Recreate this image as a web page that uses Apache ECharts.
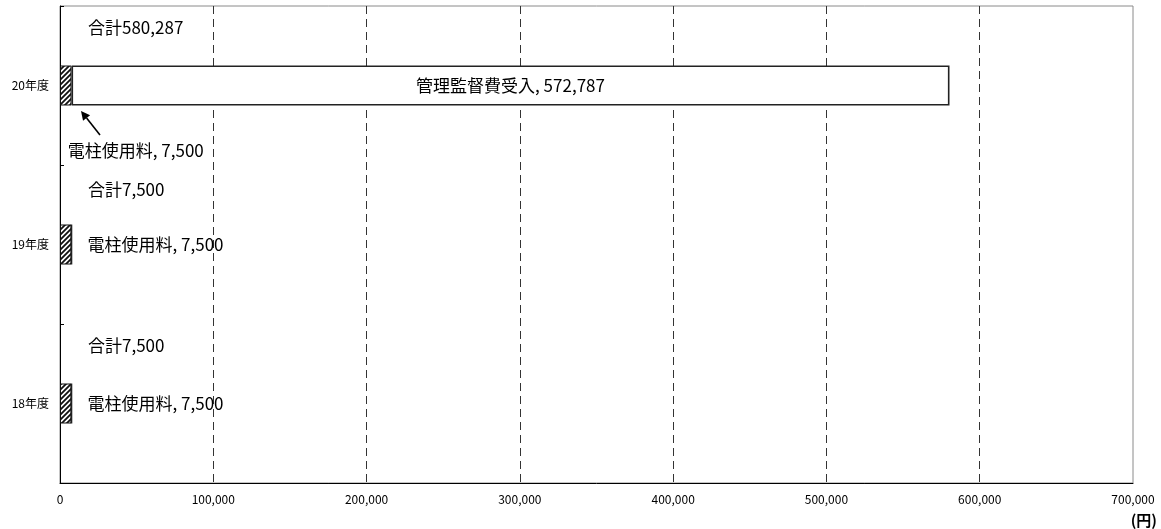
<!DOCTYPE html>
<html>
<head>
<meta charset="utf-8">
<script src="https://cdn.jsdelivr.net/npm/echarts@6/dist/echarts.min.js"></script>
<style>
  html, body { margin: 0; padding: 0; background: #fff; }
  #chart { width: 1161px; height: 529px; }
</style>
</head>
<body>
<div id="chart"></div>
<script>
// 年度別 収入内訳（円）
const years = ['18年度', '19年度', '20年度'];
const poleFee = [7500, 7500, 7500];          // 電柱使用料
const supervisionFee = [0, 0, 572787];       // 管理監督費受入
const totals = [7500, 7500, 580287];         // 合計
const xTicks = [0, 100000, 200000, 300000, 400000, 500000, 600000, 700000];

const FONT = '"Noto Sans CJK JP", "Noto Sans", sans-serif';
const fmt = v => Number(v).toLocaleString('en-US');

// diagonal hatch fill for 電柱使用料
function hatch() {
  const s = 5;
  const c = document.createElement('canvas');
  c.width = s; c.height = s;
  const g = c.getContext('2d');
  g.fillStyle = '#fff';
  g.fillRect(0, 0, s, s);
  g.strokeStyle = '#111';
  g.lineWidth = 1.8;
  g.beginPath();
  g.moveTo(-1, s + 1); g.lineTo(s + 1, -1);
  g.moveTo(-1, 1); g.lineTo(1, -1);
  g.moveTo(s - 1, s + 1); g.lineTo(s + 1, s - 1);
  g.stroke();
  return c;
}

const labelStyle = { color: '#000', fontSize: 17, fontFamily: FONT };

const poleData = poleFee.map((v, i) => {
  const top = i === years.length - 1;
  return {
    value: v,
    label: top
      ? { show: true, position: 'bottom', align: 'left', verticalAlign: 'top', offset: [2, 32] }
      : { show: true, position: 'right', distance: 16 }
  };
});

const supData = supervisionFee.map(v => ({
  value: v,
  label: { show: v > 0 }
}));

const totalShift = [-38, -35, -38];
const totalData = totals.map((v, i) => ({
  value: v,
  label: { position: [28, totalShift[i]] }
}));

const chart = echarts.init(document.getElementById('chart'));
chart.setOption({
  animation: false,
  grid: {
    left: 60, right: 28, top: 6, bottom: 46,
    show: true, borderColor: '#8a8a8a', borderWidth: 1, backgroundColor: '#fff'
  },
  xAxis: {
    type: 'value',
    min: xTicks[0], max: xTicks[xTicks.length - 1], interval: xTicks[1] - xTicks[0],
    axisLine: { show: true, lineStyle: { color: '#000', width: 1 } },
    axisTick: { show: false },
    axisLabel: { color: '#000', fontSize: 12, fontFamily: FONT, margin: 10, formatter: v => fmt(v) },
    splitLine: {
      show: true, showMinLine: false, showMaxLine: false,
      lineStyle: { color: '#333', type: [8, 5], width: 1 }
    }
  },
  yAxis: {
    type: 'category',
    data: years,
    axisLine: { show: true, lineStyle: { color: '#000', width: 1 } },
    axisTick: { show: true, inside: true, length: 4, lineStyle: { color: '#000' } },
    axisLabel: { color: '#000', fontSize: 12, fontFamily: FONT, margin: 11 }
  },
  series: [
    {
      name: '電柱使用料',
      type: 'bar',
      stack: 'income',
      barWidth: 40,
      data: poleData,
      itemStyle: { color: { image: hatch(), repeat: 'repeat' }, borderColor: '#111', borderWidth: 1 },
      label: Object.assign({ formatter: p => p.seriesName + ', ' + fmt(p.value) }, labelStyle),
      z: 3
    },
    {
      name: '管理監督費受入',
      type: 'bar',
      stack: 'income',
      barWidth: 40,
      data: supData,
      itemStyle: { color: '#fff', borderColor: '#222', borderWidth: 1.6 },
      label: Object.assign({ position: 'inside', formatter: p => p.seriesName + ', ' + fmt(p.value) }, labelStyle),
      z: 3
    },
    {
      name: '合計',
      type: 'bar',
      barWidth: 40,
      barGap: '-100%',
      silent: true,
      data: totalData,
      itemStyle: { color: 'rgba(0,0,0,0)', borderWidth: 0 },
      label: Object.assign({ show: true, verticalAlign: 'middle', formatter: p => '合計' + fmt(p.value) }, labelStyle),
      z: 4
    }
  ]
});

// leader arrow from the 20年度 電柱使用料 label up to its bar
const last = years.length - 1;
const end = chart.convertToPixel({ seriesIndex: 0 }, [poleFee[last], years[last]]);
const head = [end[0] + 9.5, end[1] + 25.5];
const tail = [end[0] + 28.5, end[1] + 49.5];
const ang = Math.atan2(head[1] - tail[1], head[0] - tail[0]);
const ah = 9, aw = 4.5;
const bx = head[0] - ah * Math.cos(ang), by = head[1] - ah * Math.sin(ang);
const px = -Math.sin(ang) * aw, py = Math.cos(ang) * aw;

chart.setOption({
  graphic: [
    {
      type: 'line',
      shape: { x1: tail[0], y1: tail[1], x2: bx, y2: by },
      style: { stroke: '#000', lineWidth: 1.6 },
      z: 10
    },
    {
      type: 'polygon',
      shape: { points: [head, [bx + px, by + py], [bx - px, by - py]] },
      style: { fill: '#000' },
      z: 10
    },
    {
      type: 'text',
      right: 4, bottom: 1,
      style: { text: '(円)', fill: '#000', font: 'bold 15px ' + FONT },
      z: 10
    }
  ]
});
</script>
</body>
</html>
